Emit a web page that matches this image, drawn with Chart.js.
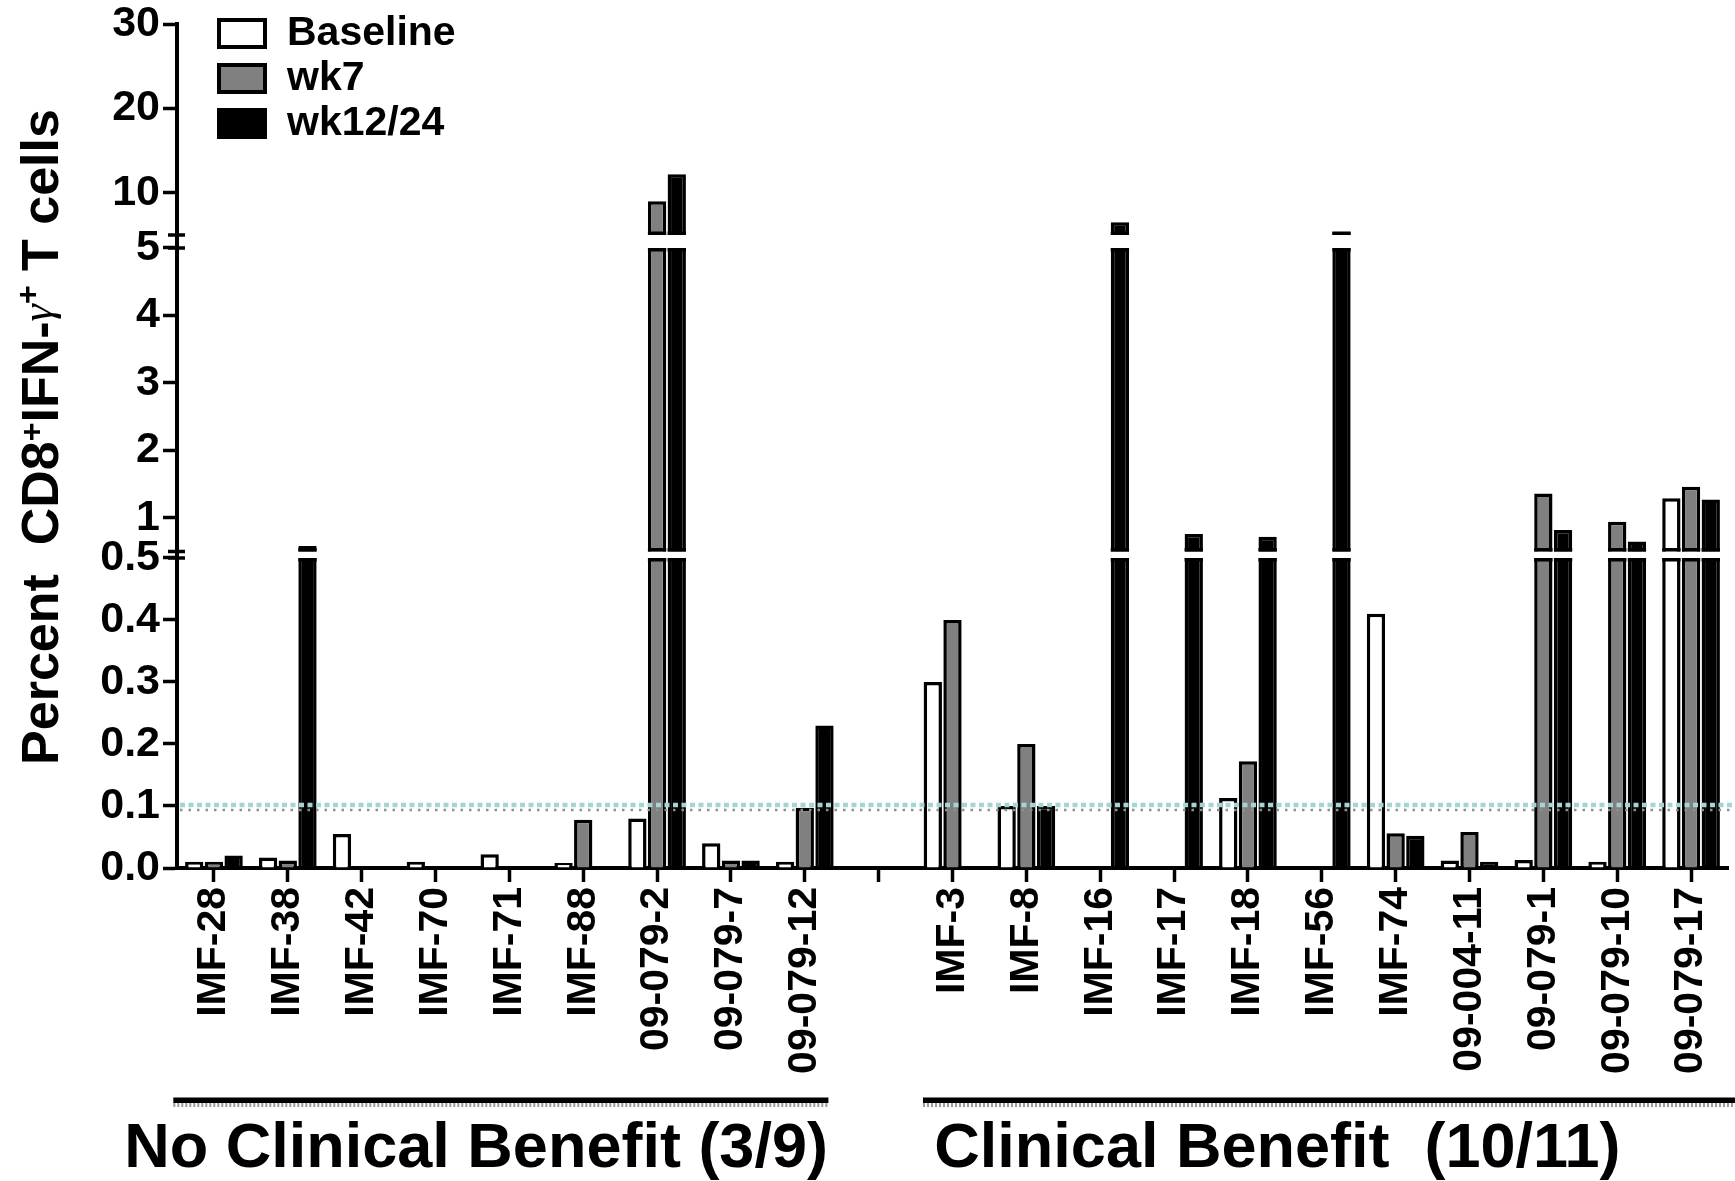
<!DOCTYPE html>
<html>
<head>
<meta charset="utf-8">
<title>CD8+ IFN-γ+ T cells by patient</title>
<script src="https://cdn.jsdelivr.net/npm/chart.js@4.4.1/dist/chart.umd.min.js"></script>
<style>
  html, body { margin: 0; padding: 0; background: #ffffff; }
  canvas { display: block; }
</style>
</head>
<body>
<canvas id="chart" width="1735" height="1181"></canvas>
<script>
// ---- data -------------------------------------------------------------
const patients = [
  'IMF-28', 'IMF-38', 'IMF-42', 'IMF-70', 'IMF-71', 'IMF-88',
  '09-079-2', '09-079-7', '09-079-12',
  '',
  'IMF-3', 'IMF-8', 'IMF-16', 'IMF-17', 'IMF-18', 'IMF-56', 'IMF-74',
  '09-004-11', '09-079-1', '09-079-10', '09-079-17'
];
const seriesNames = ['Baseline', 'wk7', 'wk12/24'];
const baseline = [0.01, 0.017, 0.055, 0.01, 0.022, 0.008, 0.08, 0.04, 0.01, null,
                  0.30, 0.10, null, null, 0.113, null, 0.41, 0.012, 0.013, 0.01, 1.29];
const wk7 =      [0.01, 0.012, null, null, null, 0.078, 9.0, 0.012, 0.097, null,
                  0.40, 0.20, null, null, 0.172, null, 0.056, 0.058, 1.36, 0.94, 1.46];
const wk12_24 =  [0.02, 0.58, null, null, null, null, 12.2, 0.012, 0.23, null,
                  null, 0.10, 6.5, 0.76, 0.72, 5.35, 0.052, 0.01, 0.82, 0.65, 1.27];
const yTickValues = [0, 0.1, 0.2, 0.3, 0.4, 0.5, 1, 2, 3, 4, 5, 10, 20, 30];
const responseThreshold = 0.1;
const groupSpans = [
  { label: 'No Clinical Benefit (3/9)', first: 0, last: 8 },
  { label: 'Clinical Benefit  (10/11)', first: 10, last: 20 }
];

// ---- styling ----------------------------------------------------------
const SANS = "'Liberation Sans', Arial, Helvetica, sans-serif";
const SERIF = "'Liberation Serif', 'Times New Roman', serif";
const seriesFill = ['#ffffff', '#808080', '#000000'];

// Broken value axis: three linear pieces stacked along the axis height
// (value range -> fraction of the axis length).
const axisPieces = [
  { min: 0,   max: 0.5, from: 0.0,   to: 0.3673 },
  { min: 0.5, max: 5,   from: 0.375, to: 0.7346 },
  { min: 5,   max: 30,  from: 0.75,  to: 1.0 }
];
// where each group's underline / caption sits, in category units
const groupLayout = [
  { lineFrom: -0.55, lineTo: 0.32, captionAt: 3.55 },
  { lineFrom: -0.40, lineTo: null, captionAt: 14.4 }
];

class BrokenLinearScale extends Chart.LinearScale {
  static id = 'brokenLinear';
  buildTicks() {
    return yTickValues.map(v => ({ value: v }));
  }
  pieceFor(value) {
    for (const p of axisPieces) if (value <= p.max) return p;
    return axisPieces[axisPieces.length - 1];
  }
  getPixelForValue(value) {
    if (value === null || value === undefined || isNaN(value)) return NaN;
    const p = this.pieceFor(value);
    const t = (value - p.min) / (p.max - p.min);
    return this.getPixelForDecimal(p.from + t * (p.to - p.from));
  }
  getValueForPixel(pixel) {
    const d = this.getDecimalForPixel(pixel);
    for (const p of axisPieces) {
      if (d <= p.to) return p.min + (d - p.from) / (p.to - p.from) * (p.max - p.min);
    }
    return axisPieces[axisPieces.length - 1].max;
  }
}
Chart.register(BrokenLinearScale);

// white gaps across the plot at each axis break, with the cut bars' edges
const axisBreaks = {
  id: 'axisBreaks',
  afterDatasetsDraw(chart) {
    const { ctx, chartArea } = chart;
    const y = chart.scales.y;
    ctx.save();
    for (let k = 0; k < axisPieces.length - 1; k++) {
      const lowerTop = y.getPixelForDecimal(axisPieces[k].to);
      const upperBottom = y.getPixelForDecimal(axisPieces[k + 1].from);
      ctx.fillStyle = '#ffffff';
      ctx.fillRect(chartArea.left + 2.5, upperBottom, chartArea.right - chartArea.left, lowerTop - upperBottom);
      chart.data.datasets.forEach((ds, di) => {
        const meta = chart.getDatasetMeta(di);
        meta.data.forEach((bar, i) => {
          const v = ds.data[i];
          if (v === null || v <= axisPieces[k].max) return;
          const { x, width } = bar.getProps(['x', 'width'], true);
          ctx.fillStyle = '#000000';
          ctx.fillRect(x - width / 2, lowerTop, width, 3.5);
          ctx.fillRect(x - width / 2, upperBottom - 3.5, width, 3.5);
        });
      });
    }
    // response threshold
    const yt = y.getPixelForValue(responseThreshold);
    ctx.beginPath();
    ctx.setLineDash([5, 3.5]);
    ctx.strokeStyle = '#a3d5d8';
    ctx.lineWidth = 4.5;
    ctx.moveTo(chartArea.left + 3, yt - 1);
    ctx.lineTo(chart.width, yt - 1);
    ctx.stroke();
    ctx.beginPath();
    ctx.setLineDash([2.5, 6]);
    ctx.strokeStyle = '#8f8f8f';
    ctx.lineWidth = 2.5;
    ctx.moveTo(chartArea.left + 3, yt + 4);
    ctx.lineTo(chart.width, yt + 4);
    ctx.stroke();
    ctx.restore();
  },
  afterDraw(chart) {
    const { ctx, chartArea } = chart;
    const y = chart.scales.y;
    const ax = chartArea.left;
    ctx.save();
    ctx.strokeStyle = '#000000';
    ctx.lineWidth = 3.5;
    for (let k = 0; k < axisPieces.length - 1; k++) {
      for (const d of [axisPieces[k].to, axisPieces[k + 1].from]) {
        const py = y.getPixelForDecimal(d);
        ctx.beginPath();
        ctx.moveTo(ax - 9, py);
        ctx.lineTo(ax + 8, py);
        ctx.stroke();
      }
    }
    ctx.restore();
  }
};

// legend, y title and group captions
const annotations = {
  id: 'annotations',
  afterDraw(chart) {
    const { ctx, chartArea } = chart;
    const x = chart.scales.x;
    ctx.save();

    // legend
    chart.data.datasets.forEach((ds, i) => {
      const bx = chartArea.left + 40, by = 18 + i * 45;
      ctx.fillStyle = '#000000';
      ctx.fillRect(bx, by, 50, 31);
      ctx.fillStyle = ds.backgroundColor;
      ctx.fillRect(bx + 4, by + 4, 42, 23);
      ctx.fillStyle = '#000000';
      ctx.font = 'bold 41px ' + SANS;
      ctx.textAlign = 'left';
      ctx.textBaseline = 'middle';
      ctx.fillText(ds.label, bx + 70, by + 16);
    });

    // y axis title
    const pieces = [
      { t: 'Percent  CD8', f: 'bold 52px ' + SANS, dy: 0 },
      { t: '+', f: 'bold 32px ' + SANS, dy: -16 },
      { t: 'IFN-', f: 'bold 52px ' + SANS, dy: 0 },
      { t: 'γ', f: 'italic 44px ' + SERIF, dy: -6 },
      { t: '+', f: 'bold 32px ' + SANS, dy: -20 },
      { t: ' T cells', f: 'bold 52px ' + SANS, dy: 0 }
    ];
    let total = 0;
    pieces.forEach(p => { ctx.font = p.f; p.w = ctx.measureText(p.t).width; total += p.w; });
    ctx.translate(58, 437);
    ctx.rotate(-Math.PI / 2);
    ctx.textAlign = 'left';
    ctx.textBaseline = 'alphabetic';
    let cx = -total / 2;
    pieces.forEach(p => {
      ctx.font = p.f;
      ctx.fillText(p.t, cx, p.dy);
      cx += p.w;
    });
    ctx.setTransform(1, 0, 0, 1, 0, 0);

    // patient groups
    groupSpans.forEach((g, i) => {
      const L = groupLayout[i];
      const x1 = x.getPixelForValue(g.first + L.lineFrom);
      const x2 = L.lineTo === null ? chart.width : x.getPixelForValue(g.last + L.lineTo);
      const ly = chartArea.bottom + 232;
      ctx.fillStyle = '#000000';
      ctx.fillRect(x1, ly - 2.5, x2 - x1, 5.5);
      ctx.beginPath();
      ctx.setLineDash([2, 2]);
      ctx.strokeStyle = '#9a9a9a';
      ctx.lineWidth = 4;
      ctx.moveTo(x1, ly + 5);
      ctx.lineTo(x2, ly + 5);
      ctx.stroke();
      ctx.setLineDash([]);
      ctx.font = 'bold 63px ' + SANS;
      ctx.textAlign = 'center';
      ctx.textBaseline = 'alphabetic';
      ctx.fillStyle = '#000000';
      ctx.fillText(g.label, x.getPixelForValue(L.captionAt), chartArea.bottom + 299);
    });
    ctx.restore();
  }
};

const seriesData = [baseline, wk7, wk12_24];
const datasets = seriesNames.map((name, i) => ({
  label: name,
  data: seriesData[i],
  backgroundColor: seriesFill[i],
  borderColor: '#000000',
  borderWidth: 3.5,
  borderSkipped: 'start',
  categoryPercentage: 0.8,
  barPercentage: 0.93
}));

Chart.defaults.font.family = SANS;
Chart.defaults.color = '#000000';

new Chart(document.getElementById('chart'), {
  type: 'bar',
  data: { labels: patients, datasets },
  options: {
    responsive: false,
    animation: false,
    devicePixelRatio: 1,
    events: [],
    layout: { padding: { top: 24, right: 7, left: 0, bottom: 0 } },
    plugins: { legend: { display: false }, tooltip: { enabled: false } },
    scales: {
      x: {
        type: 'category',
        offset: true,
        grid: { offset: false, drawOnChartArea: false, drawTicks: true, tickLength: 14, tickWidth: 3.5, tickColor: '#000000' },
        border: { display: true, color: '#000000', width: 4 },
        ticks: {
          autoSkip: false, minRotation: 90, maxRotation: 90, padding: 5,
          color: '#000000',
          font: { size: 41, weight: 'bold', lineHeight: 1 }
        },
        afterFit(scale) { scale.height = 313; scale.paddingLeft = 0; scale.paddingRight = 0; }
      },
      y: {
        type: 'brokenLinear',
        min: 0,
        max: 30,
        grid: { drawOnChartArea: false, drawTicks: true, tickLength: 14, tickWidth: 3.5, tickColor: '#000000' },
        border: { display: true, color: '#000000', width: 4 },
        ticks: {
          autoSkip: false, padding: 3, color: '#000000',
          font: { size: 43, weight: 'bold', lineHeight: 1 },
          callback: (v) => (v <= 0.5 ? Number(v).toFixed(1) : String(v))
        },
        afterFit(scale) { scale.width = 177; scale.paddingTop = 0; scale.paddingBottom = 0; }
      }
    }
  },
  plugins: [axisBreaks, annotations]
});
</script>
</body>
</html>
